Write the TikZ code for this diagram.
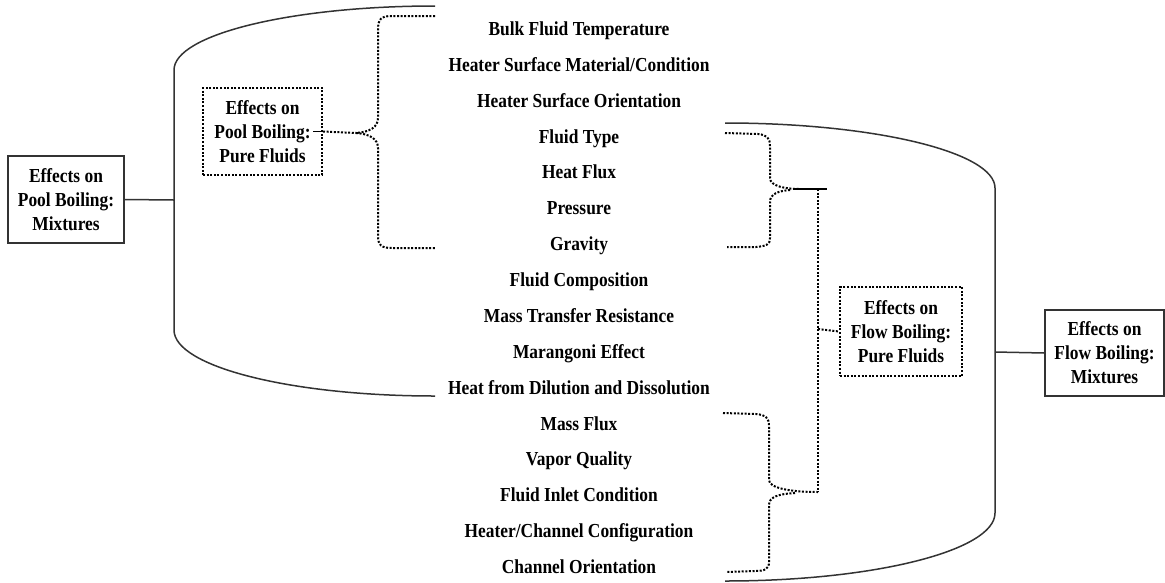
\documentclass[tikz,border=0pt]{standalone}
\usepackage{fontspec}
\usepackage{graphicx}
\setmainfont{Liberation Serif}
\newcommand\tallt[1]{\scalebox{1}[1.14]{#1}}
\begin{document}
\begin{tikzpicture}[x=1pt,y=-1pt,
  item/.style={font=\fontsize{17.4}{22}\selectfont\bfseries, inner sep=0pt, anchor=base},
  boxtext/.style={font=\fontsize{17.4}{24}\selectfont\bfseries, align=center, inner sep=0pt},
  solidbox/.style={boxtext, draw, line width=1.6pt, draw=black!80},
  dotbox/.style={boxtext, draw, line width=2pt, dash pattern=on 2pt off 1.6pt},
  dotline/.style={line width=2pt, dash pattern=on 2pt off 1.6pt},
  cyl/.style={line width=1.5pt, draw=black!80},
]
\useasboundingbox (0,0) rectangle (1165,582);

% item texts
\foreach \t [count=\i] in {Bulk Fluid Temperature,Heater Surface Material/Condition,Heater Surface Orientation,Fluid Type,Heat Flux,Pressure,Gravity,Fluid Composition,Mass Transfer Resistance,Marangoni Effect,Heat from Dilution and Dissolution,Mass Flux,Vapor Quality,Fluid Inlet Condition,Heater/Channel Configuration,Channel Orientation}
  \node[item] (t\i) at (579,{35.5+35.87*(\i-1)}) {\tallt{\t}};

% boxes
\node[solidbox, minimum width=116pt, minimum height=87pt] (pmix) at (66,199.5) {\tallt{Effects on}\\\tallt{Pool Boiling:}\\\tallt{Mixtures}};
\node[solidbox, minimum width=119pt, minimum height=86pt] (fmix) at (1104.5,353) {\tallt{Effects on}\\\tallt{Flow Boiling:}\\\tallt{Mixtures}};
\node[dotbox, minimum width=119pt, minimum height=87pt] (ppure) at (262.5,131.5) {\tallt{Effects on}\\\tallt{Pool Boiling:}\\\tallt{Pure Fluids}};
\node[dotbox, minimum width=122pt, minimum height=89pt] (fpure) at (901,331.5) {\tallt{Effects on}\\\tallt{Flow Boiling:}\\\tallt{Pure Fluids}};

% cylinders
\draw[cyl] (435,6) .. controls (290.8,6) and (174,34.7) .. (174,70)
  -- (174,330)
  .. controls (174,366.5) and (290.8,396) .. (435,396);
\coordinate (lc) at (174,200);
\draw[cyl] (725,123) .. controls (874.1,123) and (995,152.1) .. (995,188)
  -- (995,513)
  .. controls (995,550.6) and (874.1,581) .. (725,581);
\coordinate (rc) at (995,352);

\draw[cyl] (pmix.east) -- (lc);
\draw[cyl] (rc) -- (fmix.west);

% brace 1 (pool boiling pure fluids)
\coordinate (b1tip) at (356,133);
\draw[dotline] (435,16) -- (392,16) .. controls (381,16) and (378,19) .. (378,30)
  -- (378,118) .. controls (378,127) and (370,132) .. (b1tip);
\draw[dotline] (b1tip) .. controls (370,134) and (378,139) .. (378,148)
  -- (378,236) .. controls (378,245) and (381,248) .. (392,248) -- (435,248);
\draw[dotline] (ppure.east) -- (b1tip);
\draw[line width=1.6pt] ([xshift=-10pt]ppure.east) -- (ppure.east);

% brace 2 (upper flow)
\coordinate (b2tip) at (818,189);
\draw[dotline] (725,133) -- (758,134) .. controls (767,135) and (770,138) .. (770,146)
  -- (770,178) .. controls (770,186) and (785,189) .. (800,189);
\draw[dotline] (790,190) .. controls (778,191) and (770,194) .. (770,202)
  -- (770,238) .. controls (770,245) and (766,246) .. (756,247) -- (727,247);
\draw[line width=1.6pt] (795,189) -- (827,189);

% brace 3 (lower flow)
\coordinate (b3tip) at (818,492);
\draw[dotline] (723,413) -- (756,414) .. controls (766,415) and (769,418) .. (769,426)
  -- (769,480) .. controls (769,488) and (790,492) .. (b3tip);
\draw[dotline] (795,493) .. controls (778,494) and (769,497) .. (769,505)
  -- (769,562) .. controls (769,569) and (765,571) .. (755,571) -- (727,572);

% flow connector
\draw[dotline] (b2tip) -- (b3tip);
\coordinate (fj) at (818,329);
\draw[dotline] (fj) -- (fpure.west);
\end{tikzpicture}
\end{document}
